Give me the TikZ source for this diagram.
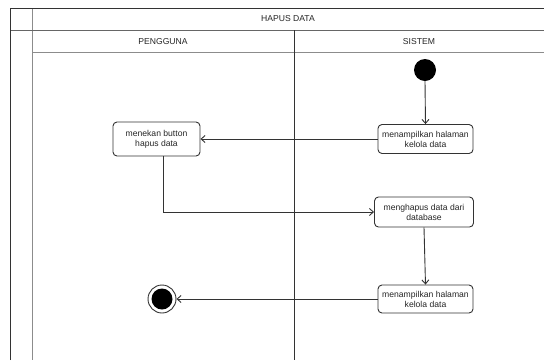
\documentclass[tikz,border=0pt]{standalone}
\usepackage{fontspec}
\setmainfont{Liberation Sans}
\usetikzlibrary{arrows.meta}
\begin{document}
\begin{tikzpicture}[x=1pt,y=-1pt,
  every node/.style={font=\fontsize{8.6}{10}\selectfont, text=black!85},
  act/.style={draw=black!80, line width=0.9pt, rounded corners=4pt, align=center, inner sep=1pt},
  flow/.style={draw=black!80, line width=0.9pt, -{Straight Barb[length=4pt,width=7pt]}},
  dark/.style={draw=black!80, line width=1pt},
  lite/.style={draw=black!45, line width=1pt}]
\useasboundingbox (0,0) rectangle (544,360);
\fill[white] (0,0) rectangle (544,360);

% swimlane frame
\draw[lite] (32,8) -- (32,360);
\draw[lite] (32,52) -- (544,52);
\draw[draw=black!60, line width=1pt] (10,30) -- (544,30);
\draw[dark] (10,360) -- (10,8) -- (544,8);
\draw[dark] (294,30) -- (294,360);

\node (title) at (288,19) {HAPUS DATA};
\node (laneA) at (163,41.5) {PENGGUNA};
\node (laneB) at (419,41.5) {SISTEM};

% activities
\fill (425,70) circle (11);
\coordinate (startc) at (425,70);
\coordinate (starts) at (425,81);
\node[act, minimum width=95pt, minimum height=29pt] (show1) at (425.5,139) {menampilkan halaman\\kelola data};
\node[act, minimum width=87pt, minimum height=34pt] (press) at (156.5,139) {menekan button\\hapus data};
\node[act, minimum width=99pt, minimum height=30pt] (del) at (424,212) {menghapus data dari\\database};
\node[act, minimum width=95pt, minimum height=28pt] (show2) at (425.5,299) {menampilkan halaman\\kelola data};
\node[circle, draw=black!80, line width=0.9pt, minimum size=28pt, inner sep=0pt] (endc) at (162,299) {};
\fill (endc.center) circle (10.5);

% flows
\draw[flow] (starts) -- (show1.north);
\draw[flow] (show1.west) -- (press.east);
\draw[flow] ([xshift=7pt]press.south) |- (del.west);
\draw[flow] (del.south) -- (show2.north);
\draw[flow] (show2.west) -- (endc.east);
\end{tikzpicture}
\end{document}
